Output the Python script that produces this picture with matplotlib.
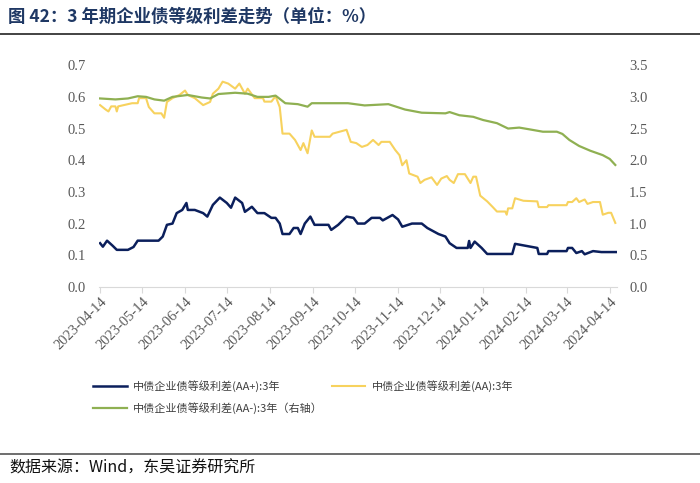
import pandas as pd
import matplotlib.pyplot as plt
import matplotlib.dates as mdates

# AA+ 3Y spread (left axis)
aa_plus_dates = ["2023-04-14", "2023-04-16", "2023-04-19", "2023-04-23", "2023-04-26", "2023-05-04",
                 "2023-05-08", "2023-05-11", "2023-05-26", "2023-05-29", "2023-06-01", "2023-06-05",
                 "2023-06-08", "2023-06-12", "2023-06-15", "2023-06-16", "2023-06-21", "2023-06-27",
                 "2023-06-30", "2023-07-04", "2023-07-09", "2023-07-14", "2023-07-17", "2023-07-20",
                 "2023-07-25", "2023-07-27", "2023-08-01", "2023-08-05", "2023-08-10", "2023-08-15",
                 "2023-08-18", "2023-08-21", "2023-08-23", "2023-08-28", "2023-08-31", "2023-09-03",
                 "2023-09-05", "2023-09-08", "2023-09-12", "2023-09-15", "2023-09-25", "2023-09-27",
                 "2023-10-02", "2023-10-08", "2023-10-13", "2023-10-16", "2023-10-21", "2023-10-26",
                 "2023-11-01", "2023-11-03", "2023-11-10", "2023-11-14", "2023-11-17", "2023-11-24",
                 "2023-12-01", "2023-12-05", "2023-12-13", "2023-12-18", "2023-12-21", "2023-12-26",
                 "2024-01-03", "2024-01-04", "2024-01-05", "2024-01-08", "2024-01-13", "2024-01-17",
                 "2024-02-04", "2024-02-06", "2024-02-22", "2024-02-23", "2024-02-29", "2024-03-01",
                 "2024-03-14", "2024-03-15", "2024-03-18", "2024-03-21", "2024-03-25", "2024-03-27",
                 "2024-04-02", "2024-04-08", "2024-04-19"]
aa_plus = [0.138, 0.127, 0.146, 0.130, 0.117, 0.117, 0.126, 0.146, 0.146, 0.159, 0.196, 0.200,
           0.233, 0.243, 0.265, 0.243, 0.243, 0.233, 0.222, 0.259, 0.282, 0.265, 0.250, 0.282,
           0.265, 0.237, 0.253, 0.233, 0.233, 0.218, 0.218, 0.200, 0.167, 0.167, 0.186, 0.186,
           0.167, 0.200, 0.222, 0.196, 0.196, 0.180, 0.196, 0.222, 0.218, 0.200, 0.200, 0.218,
           0.218, 0.210, 0.227, 0.213, 0.190, 0.200, 0.200, 0.186, 0.167, 0.159, 0.138, 0.123,
           0.123, 0.145, 0.123, 0.143, 0.123, 0.104, 0.104, 0.136, 0.123, 0.104, 0.104, 0.113,
           0.113, 0.123, 0.123, 0.107, 0.113, 0.103, 0.113, 0.110, 0.110]

# AA 3Y spread (left axis)
aa_dates = ["2023-04-14", "2023-04-18", "2023-04-20", "2023-04-22", "2023-04-25", "2023-04-26",
            "2023-04-27", "2023-05-07", "2023-05-11", "2023-05-12", "2023-05-17", "2023-05-19",
            "2023-05-23", "2023-05-28", "2023-05-30", "2023-06-01", "2023-06-05", "2023-06-10",
            "2023-06-14", "2023-06-16", "2023-06-21", "2023-06-27", "2023-07-02", "2023-07-04",
            "2023-07-08", "2023-07-11", "2023-07-15", "2023-07-20", "2023-07-23", "2023-07-27",
            "2023-07-29", "2023-08-03", "2023-08-09", "2023-08-10", "2023-08-15", "2023-08-18",
            "2023-08-21", "2023-08-23", "2023-08-28", "2023-09-01", "2023-09-05", "2023-09-07",
            "2023-09-10", "2023-09-13", "2023-09-15", "2023-09-26", "2023-09-28", "2023-10-08",
            "2023-10-11", "2023-10-15", "2023-10-19", "2023-10-23", "2023-10-27", "2023-10-31",
            "2023-11-02", "2023-11-08", "2023-11-12", "2023-11-15", "2023-11-17", "2023-11-20",
            "2023-11-22", "2023-11-28", "2023-11-30", "2023-12-03", "2023-12-08", "2023-12-12",
            "2023-12-15", "2023-12-19", "2023-12-21", "2023-12-24", "2023-12-27", "2024-01-01",
            "2024-01-03", "2024-01-05", "2024-01-07", "2024-01-09", "2024-01-12", "2024-01-17",
            "2024-01-21", "2024-01-24", "2024-01-30", "2024-01-31", "2024-02-01", "2024-02-04",
            "2024-02-06", "2024-02-12", "2024-02-22", "2024-02-23", "2024-02-29", "2024-03-01",
            "2024-03-14", "2024-03-15", "2024-03-18", "2024-03-21", "2024-03-23", "2024-03-27",
            "2024-03-29", "2024-04-02", "2024-04-07", "2024-04-09", "2024-04-13", "2024-04-15",
            "2024-04-18"]
aa = [0.574, 0.560, 0.554, 0.570, 0.570, 0.554, 0.570, 0.580, 0.580, 0.596, 0.596, 0.568,
      0.548, 0.548, 0.534, 0.584, 0.596, 0.606, 0.620, 0.606, 0.596, 0.574, 0.584, 0.610,
      0.626, 0.648, 0.642, 0.626, 0.642, 0.610, 0.626, 0.596, 0.596, 0.585, 0.585, 0.602,
      0.568, 0.484, 0.484, 0.464, 0.432, 0.454, 0.422, 0.494, 0.474, 0.474, 0.484, 0.496,
      0.458, 0.454, 0.442, 0.448, 0.464, 0.448, 0.458, 0.458, 0.432, 0.416, 0.384, 0.400,
      0.358, 0.348, 0.328, 0.338, 0.346, 0.322, 0.342, 0.350, 0.338, 0.328, 0.356, 0.356,
      0.342, 0.328, 0.348, 0.348, 0.288, 0.270, 0.252, 0.238, 0.238, 0.228, 0.248, 0.248,
      0.280, 0.272, 0.270, 0.252, 0.252, 0.258, 0.258, 0.268, 0.268, 0.280, 0.268, 0.276,
      0.262, 0.268, 0.268, 0.228, 0.234, 0.234, 0.202]

# AA- 3Y spread (right axis)
aa_minus_dates = ["2023-04-14", "2023-04-25", "2023-05-04", "2023-05-11", "2023-05-17", "2023-05-23",
                  "2023-05-30", "2023-06-05", "2023-06-16", "2023-06-26", "2023-07-02", "2023-07-08",
                  "2023-07-20", "2023-07-29", "2023-08-05", "2023-08-13", "2023-08-18", "2023-08-25",
                  "2023-09-03", "2023-09-10", "2023-09-13", "2023-10-09", "2023-10-21", "2023-11-07",
                  "2023-11-19", "2023-12-01", "2023-12-18", "2023-12-21", "2023-12-28", "2024-01-07",
                  "2024-01-14", "2024-01-24", "2024-02-01", "2024-02-09", "2024-02-17", "2024-02-26",
                  "2024-03-07", "2024-03-11", "2024-03-16", "2024-03-23", "2024-03-31", "2024-04-09",
                  "2024-04-14", "2024-04-18"]
aa_minus = [2.975, 2.960, 2.975, 3.010, 3.000, 2.960, 2.940, 3.000, 3.030, 2.990, 2.975, 3.045,
            3.065, 3.050, 3.000, 3.000, 3.020, 2.900, 2.885, 2.845, 2.900, 2.900, 2.865, 2.885,
            2.800, 2.750, 2.740, 2.760, 2.710, 2.685, 2.635, 2.585, 2.500, 2.515, 2.485, 2.450,
            2.450, 2.415, 2.320, 2.225, 2.150, 2.080, 2.020, 1.925]

tick_dates = ["2023-04-14", "2023-05-14", "2023-06-14", "2023-07-14", "2023-08-14", "2023-09-14",
              "2023-10-14", "2023-11-14", "2023-12-14", "2024-01-14", "2024-02-14", "2024-03-14",
              "2024-04-14"]

labels = ["中债企业债等级利差(AA+):3年", "中债企业债等级利差(AA):3年", "中债企业债等级利差(AA-):3年（右轴）"]

plt.rcParams['font.family'] = ['Noto Sans CJK SC', 'DejaVu Sans']

fig = plt.figure(figsize=(7, 4.83), dpi=100)
ax = fig.add_axes([0.141, 0.406, 0.74, 0.459])
ax2 = ax.twinx()

l1, = ax.plot(pd.to_datetime(aa_plus_dates), aa_plus, color="#0b1f5c", lw=1.8)
l2, = ax.plot(pd.to_datetime(aa_dates), aa, color="#f7d25e", lw=1.5)
l3, = ax2.plot(pd.to_datetime(aa_minus_dates), aa_minus, color="#8fb052", lw=1.6)

ax.set_ylim(0, 0.7)
ax2.set_ylim(0, 3.5)
ax.set_yticks([i / 10 for i in range(8)])
ax2.set_yticks([i / 2 for i in range(8)])
ax.yaxis.set_major_formatter(plt.FormatStrFormatter('%.1f'))
ax2.yaxis.set_major_formatter(plt.FormatStrFormatter('%.1f'))
ax.set_xlim(pd.Timestamp("2023-04-13"), pd.Timestamp("2024-04-19"))
ax.set_xticks(pd.to_datetime(tick_dates))
ax.xaxis.set_major_formatter(mdates.DateFormatter('%Y-%m-%d'))

for a in (ax, ax2):
    for s in ("top", "left", "right"):
        a.spines[s].set_visible(False)
    a.spines["bottom"].set_color("#d9d9d9")
ax2.spines["bottom"].set_visible(False)

ax.tick_params(axis='y', length=0, pad=9, labelsize=10.5, labelcolor="#595959")
ax2.tick_params(axis='y', length=0, pad=9, labelsize=10.5, labelcolor="#595959")
ax.tick_params(axis='x', length=4, color="#d9d9d9", labelsize=10.5, labelcolor="#595959", pad=2)
for lab in ax.get_xticklabels() + ax.get_yticklabels() + ax2.get_yticklabels():
    lab.set_family("Liberation Serif")
plt.setp(ax.get_xticklabels(), rotation=45, ha='right', rotation_mode='anchor')

fig.legend([l1, l3, l2], [labels[0], labels[2], labels[1]], ncol=2, loc='upper left',
           bbox_to_anchor=(0.119, 0.233), frameon=False, fontsize=8, handlelength=3.0,
           columnspacing=0.8, labelspacing=0.85, handletextpad=0.6, labelcolor="#404040")

fig.text(0.012, 0.965, "图 42：3 年期企业债等级利差走势（单位：%）", fontsize=12.5, fontweight='bold',
         color="#1f3864", va='center', ha='left')
fig.add_artist(plt.Line2D([0.0, 1.0], [0.930, 0.930], color="#222222", lw=1.2))
fig.add_artist(plt.Line2D([0.0, 1.0], [0.060, 0.060], color="#555555", lw=1.2))
fig.text(0.014, 0.032, "数据来源：Wind，东吴证券研究所", fontsize=11.5, color="#111111",
         va='center', ha='left')

fig.savefig("out.png", dpi=100)
